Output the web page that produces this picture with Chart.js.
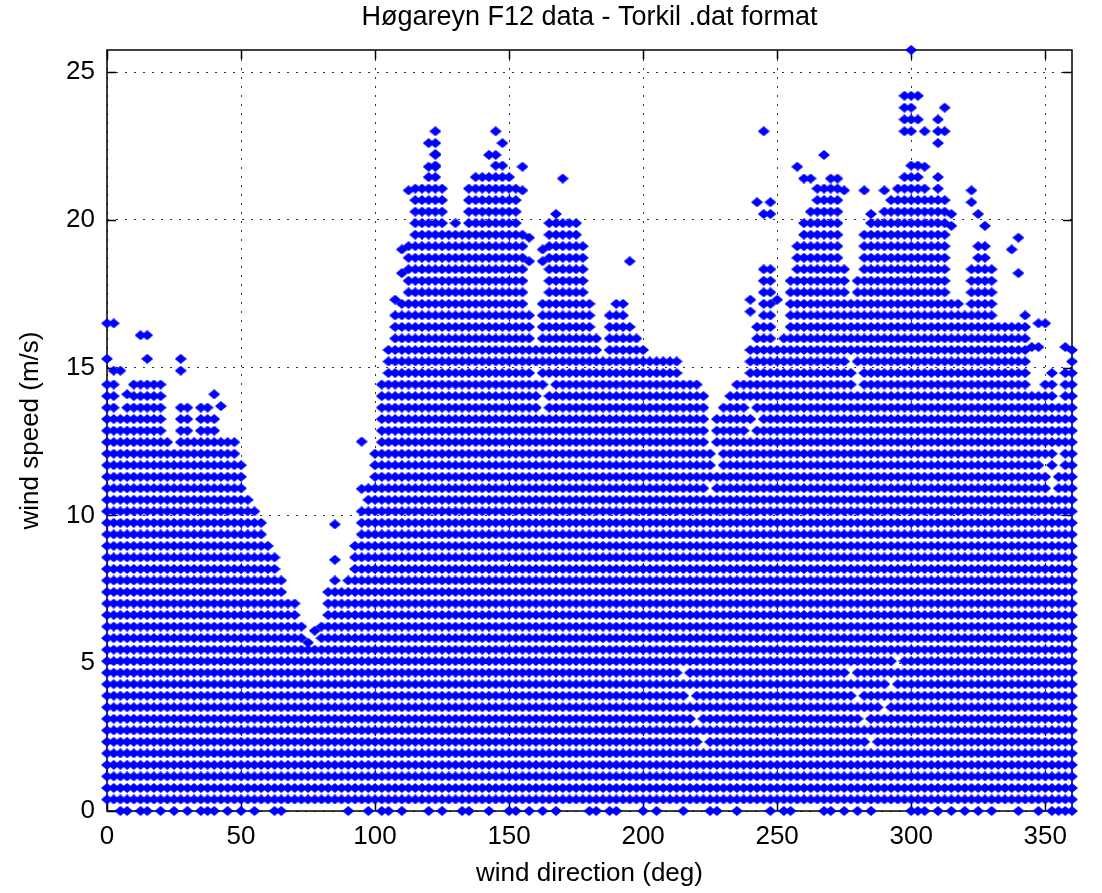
<!DOCTYPE html>
<html>
<head>
<meta charset="utf-8">
<script src="https://cdn.jsdelivr.net/npm/chart.js"></script>
<style>
  html, body { margin: 0; padding: 0; background: #fff; }
  #wrap { width: 1102px; height: 893px; }
</style>
</head>
<body>
<div id="wrap"><canvas id="myChart" width="1102" height="893"></canvas></div>
<script>
const chartTitle = 'Høgareyn F12 data - Torkil .dat format';
const xLabel = 'wind direction (deg)';
const yLabel = 'wind speed (m/s)';

// wind direction bins (deg)
const directions = [
  0, 2.5, 5, 7.5, 10, 12.5, 15, 17.5, 20, 22.5, 25, 27.5, 30, 32.5, 35, 37.5, 40, 42.5, 45, 47.5,
  50, 52.5, 55, 57.5, 60, 62.5, 65, 67.5, 70, 72.5, 75, 77.5, 80, 82.5, 85, 87.5, 90, 92.5, 95, 97.5,
  100, 102.5, 105, 107.5, 110, 112.5, 115, 117.5, 120, 122.5, 125, 127.5, 130, 132.5, 135, 137.5, 140, 142.5, 145, 147.5,
  150, 152.5, 155, 157.5, 160, 162.5, 165, 167.5, 170, 172.5, 175, 177.5, 180, 182.5, 185, 187.5, 190, 192.5, 195, 197.5,
  200, 202.5, 205, 207.5, 210, 212.5, 215, 217.5, 220, 222.5, 225, 227.5, 230, 232.5, 235, 237.5, 240, 242.5, 245, 247.5,
  250, 252.5, 255, 257.5, 260, 262.5, 265, 267.5, 270, 272.5, 275, 277.5, 280, 282.5, 285, 287.5, 290, 292.5, 295, 297.5,
  300, 302.5, 305, 307.5, 310, 312.5, 315, 317.5, 320, 322.5, 325, 327.5, 330, 332.5, 335, 337.5, 340, 342.5, 345, 347.5,
  350, 352.5, 355, 357.5, 360
];

// highest speed reached in each direction bin, filled down to the lowest level (m/s)
const topSpeed = [
  14.5, 14.5, 13.3, 13.7, 14.5, 14.5, 14.5, 14.5, 14.5, 12.5, 12.1, 13.7, 13.7, 12.5, 13.7, 13.7, 13.3, 12.5, 12.5, 12.5,
  11.7, 10.5, 10.1, 9.7, 8.9, 8.5, 7.7, 6.9, 6.9, 6.1, 5.3, 5.3, 6.1, 7.3, 7.7, 7.3, 7.7, 8.9, 10.1, 10.9,
  12.1, 14.5, 15.7, 16.9, 17.3, 19.0, 21.0, 21.0, 21.4, 22.2, 21.0, 19.4, 19.8, 19.4, 21.0, 21.4, 21.4, 21.4, 21.8, 21.8,
  21.4, 21.0, 19.4, 16.9, 15.7, 17.3, 19.8, 19.8, 19.8, 19.8, 19.8, 19.0, 17.3, 16.1, 15.3, 16.9, 17.3, 17.3, 16.5, 16.1,
  15.7, 15.3, 15.3, 15.3, 15.3, 15.3, 14.5, 14.5, 14.5, 14.1, 12.1, 13.3, 13.7, 14.1, 14.5, 14.5, 15.7, 16.5, 18.2, 18.2,
  15.7, 16.1, 17.8, 19.0, 19.8, 20.2, 21.0, 21.0, 21.0, 21.0, 18.2, 17.3, 17.8, 19.4, 19.8, 19.8, 20.2, 20.6, 21.0, 21.4,
  21.8, 21.8, 21.0, 20.6, 21.4, 20.6, 17.3, 17.3, 16.9, 18.2, 19.0, 19.0, 18.2, 16.5, 16.5, 16.5, 16.5, 16.9, 14.1, 14.1,
  14.5, 14.9, 13.7, 14.9, 15.7
];

// isolated readings above the filled part [direction, speed]
const extraPoints = [
  [0, 16.5], [2.5, 16.5], [0, 15.3], [2.5, 14.9], [5, 14.9], [7.5, 14.1], [12.5, 16.1], [15, 16.1], [15, 15.3],
  [27.5, 15.3], [27.5, 14.9], [40, 14.1], [42.5, 13.7], [75, 5.7], [77.5, 6.1], [85, 9.7], [85, 8.5], [95, 10.9], [95, 12.5],
  [107.5, 17.3], [110, 18.2], [110, 19.0], [112.5, 21.0], [122.5, 23.0], [120, 22.6], [122.5, 22.6], [122.5, 22.2],
  [120, 21.8], [122.5, 21.8], [142.5, 22.2], [145, 23.0], [145, 22.2], [147.5, 22.6], [155, 21.8], [155, 21.0],
  [157.5, 19.4], [157.5, 18.6], [162.5, 18.6], [162.5, 19.0], [170, 21.4], [167.5, 20.2], [195, 18.6],
  [240, 16.9], [240, 17.3], [242.5, 20.6], [245, 20.2], [247.5, 20.2], [247.5, 20.6], [245, 23.0], [250, 17.3],
  [257.5, 21.8], [260, 21.4], [262.5, 21.4], [267.5, 22.2], [270, 21.4], [272.5, 21.4], [275, 21.0], [282.5, 21.0],
  [285, 20.2], [290, 21.0], [297.5, 23.0], [300, 23.0], [297.5, 23.4], [300, 23.4], [297.5, 23.8], [300, 23.8],
  [297.5, 24.2], [300, 24.2], [302.5, 24.2], [300, 25.75], [302.5, 23.4], [305, 21.8], [305, 23.0], [310, 23.4],
  [312.5, 23.8], [310, 23.0], [312.5, 23.0], [310, 22.6], [315, 19.8], [315, 20.2], [322.5, 21.0], [322.5, 20.6],
  [325, 20.2], [327.5, 19.8], [337.5, 19.0], [340, 18.2], [340, 19.4], [345, 15.7], [347.5, 16.5], [347.5, 15.7],
  [350, 16.5], [357.5, 15.7]
];

// gaps inside the filled part [direction, speed]
const holes = [
  [215, 4.7], [217.5, 3.9], [220, 3.1], [222.5, 2.3], [277.5, 4.7], [280, 3.9], [282.5, 3.1], [285, 2.3],
  [290, 3.5], [292.5, 4.3], [295, 5.1], [350, 11.7], [352.5, 11.3], [352.5, 10.9], [355, 11.7], [355, 12.1],
  [225, 10.9], [227.5, 11.7], [227.5, 12.1], [242.5, 13.3], [240, 12.9], [240, 13.7],
  [162.5, 13.7], [162.5, 14.1], [165, 14.5], [160, 14.9], [277.5, 15.3], [280, 14.5], [280, 14.9]
];

// directions with readings at 0 m/s
const calmDirections = [
  5, 7.5, 12.5, 15, 20, 25, 30, 35, 37.5, 40, 45, 50, 55, 62.5, 65, 90, 97.5, 102.5, 105, 110, 120, 125,
  132.5, 135, 142.5, 150, 152.5, 157.5, 162.5, 167.5, 180, 182.5, 187.5, 190, 200, 205, 215, 225, 227.5,
  235, 247.5, 252.5, 255, 267.5, 270, 275, 280, 285, 300, 302.5, 305, 310, 315, 320, 325, 330, 340, 347.5,
  352.5, 355, 357.5, 360
];

const speedStep = 0.39;
const xTicks = [0, 50, 100, 150, 200, 250, 300, 350];
const yTicks = [0, 5, 10, 15, 20, 25];

const level = v => Math.round(v / speedStep);
const holeSet = new Set(holes.map(h => h[0] + ':' + level(h[1])));

const points = [];
directions.forEach((d, i) => {
  const n = level(topSpeed[i]);
  for (let k = 1; k <= n; k++) {
    if (!holeSet.has(d + ':' + k)) points.push({ x: d, y: k * speedStep });
  }
});
extraPoints.forEach(p => points.push({ x: p[0], y: p[1] }));
calmDirections.forEach(d => points.push({ x: d, y: 0 }));

// diamond marker, a bit wider than tall
const marker = document.createElement('canvas');
marker.width = 12;
marker.height = 10;
const mctx = marker.getContext('2d');
mctx.fillStyle = '#0000ff';
mctx.beginPath();
mctx.moveTo(0, 5); mctx.lineTo(6, 0); mctx.lineTo(12, 5); mctx.lineTo(6, 10);
mctx.closePath();
mctx.fill();

const fontFamily = '"Liberation Sans", Arial, sans-serif';

const frame = {
  id: 'frame',
  beforeDatasetsDraw(chart) {
    const { ctx, chartArea: a, scales: { x, y } } = chart;
    ctx.save();
    ctx.strokeStyle = '#000';
    ctx.lineWidth = 1.5;
    ctx.strokeRect(a.left, a.top, a.right - a.left, a.bottom - a.top);
    ctx.beginPath();
    xTicks.forEach(v => {
      const px = Math.round(x.getPixelForValue(v)) + 0.5;
      ctx.moveTo(px, a.bottom); ctx.lineTo(px, a.bottom - 9);
      ctx.moveTo(px, a.top); ctx.lineTo(px, a.top + 9);
    });
    yTicks.forEach(v => {
      const py = Math.round(y.getPixelForValue(v)) + 0.5;
      ctx.moveTo(a.left, py); ctx.lineTo(a.left + 9, py);
      ctx.moveTo(a.right, py); ctx.lineTo(a.right - 9, py);
    });
    ctx.stroke();
    ctx.restore();
  },
  afterDraw(chart) {
    const { ctx, chartArea: a } = chart;
    ctx.save();
    ctx.fillStyle = '#000';
    ctx.textAlign = 'center';
    ctx.textBaseline = 'middle';
    ctx.font = '27px ' + fontFamily;
    ctx.fillText(chartTitle, (a.left + a.right) / 2, 18);
    ctx.font = '26px ' + fontFamily;
    ctx.fillText(xLabel, (a.left + a.right) / 2, 874);
    ctx.translate(31, (a.top + a.bottom) / 2);
    ctx.rotate(-Math.PI / 2);
    ctx.fillText(yLabel, 0, 0);
    ctx.restore();
  }
};

new Chart(document.getElementById('myChart'), {
  type: 'scatter',
  data: {
    datasets: [{
      data: points,
      pointStyle: marker,
      pointRadius: 5,
      backgroundColor: '#0000ff',
      borderColor: '#0000ff',
      clip: false
    }]
  },
  options: {
    responsive: false,
    animation: false,
    events: [],
    layout: { padding: { top: 50, right: 30, left: 0, bottom: 0 } },
    plugins: { legend: { display: false }, tooltip: { enabled: false } },
    scales: {
      x: {
        type: 'linear',
        min: 0,
        max: 360,
        afterBuildTicks: s => { s.ticks = xTicks.map(v => ({ value: v })); },
        afterFit: s => { s.height = 82; },
        grid: { color: '#333', lineWidth: 1, drawTicks: false },
        border: { display: false, dash: [2, 7] },
        ticks: { color: '#000', padding: 10, font: { size: 26, family: fontFamily }, maxRotation: 0 }
      },
      y: {
        type: 'linear',
        min: 0,
        max: 25.75,
        afterBuildTicks: s => { s.ticks = yTicks.map(v => ({ value: v })); },
        afterFit: s => { s.width = 107; },
        grid: { color: '#333', lineWidth: 1, drawTicks: false },
        border: { display: false, dash: [2, 7] },
        ticks: { color: '#000', padding: 12, font: { size: 26, family: fontFamily } }
      }
    }
  },
  plugins: [frame]
});
</script>
</body>
</html>
